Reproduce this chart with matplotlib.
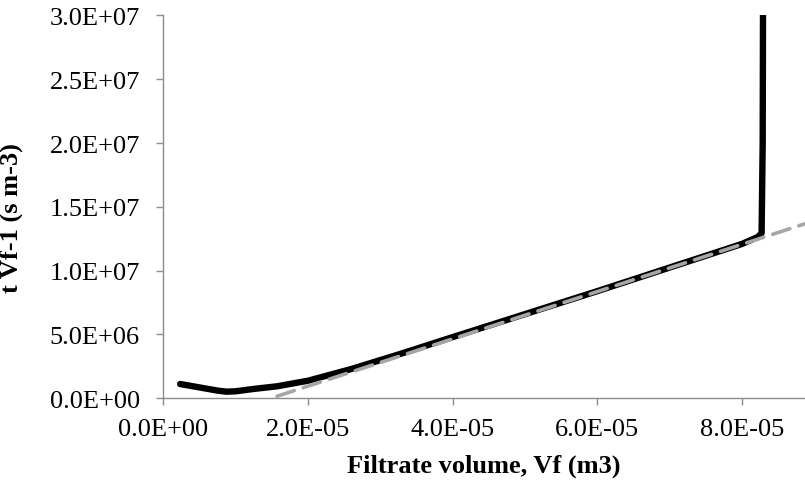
import matplotlib
matplotlib.use('Agg')
import matplotlib.pyplot as plt

plt.rcParams['font.family'] = ['Liberation Serif', 'DejaVu Serif']

# measured curve t/Vf vs Vf
vf = [2.3e-6, 4.0e-6, 6.0e-6, 7.5e-6, 8.7e-6, 1.0e-5, 1.24e-5, 1.57e-5, 2.0e-5,
      2.6e-5, 3.27e-5, 4.0e-5, 5.0e-5, 6.0e-5, 7.0e-5, 8.0e-5, 8.22e-5, 8.27e-5,
      8.285e-5, 8.29e-5]
t_over_vf = [1.12e6, 0.95e6, 0.75e6, 0.6e6, 0.52e6, 0.55e6, 0.73e6, 0.94e6, 1.38e6,
             2.3e6, 3.47e6, 4.8e6, 6.6e6, 8.4e6, 10.25e6, 12.1e6, 12.65e6, 12.95e6,
             20.0e6, 3.2e7]

# linear fit line
fit_vf = [1.57e-5, 9.0e-5]
fit_y = [0.16e6, 13.92e6]

xticks = [0, 2e-5, 4e-5, 6e-5, 8e-5]
xticklabels = ['0.0E+00', '2.0E-05', '4.0E-05', '6.0E-05', '8.0E-05']
yticks = [0, 5e6, 1e7, 1.5e7, 2e7, 2.5e7, 3e7]
yticklabels = ['0.0E+00', '5.0E+06', '1.0E+07', '1.5E+07', '2.0E+07', '2.5E+07', '3.0E+07']

fig = plt.figure(figsize=(8.05, 4.85), dpi=100)
ax = fig.add_axes([0.2031, 0.1767, 0.7969, 0.7893])

ax.plot(vf, t_over_vf, color='black', linewidth=4.6, solid_joinstyle='round',
        solid_capstyle='round', zorder=2)
ax.plot(fit_vf, fit_y, color='#a6a6a6', linewidth=2.6, dashes=(5, 2.6),
        dash_capstyle='round', zorder=3)

ax.set_xlim(0, 8.87e-5)
ax.set_ylim(0, 3e7)
ax.set_xticks(xticks)
ax.set_xticklabels(xticklabels, fontsize=19)
ax.set_yticks(yticks)
ax.set_yticklabels(yticklabels, fontsize=19)

for s in ['top', 'right']:
    ax.spines[s].set_visible(False)
for s in ['left', 'bottom']:
    ax.spines[s].set_color('#8c8c8c')
    ax.spines[s].set_linewidth(1.0)
ax.tick_params(direction='out', length=5, color='#8c8c8c', width=1.0)
ax.tick_params(axis='y', pad=12)
ax.tick_params(axis='x', pad=9)

ax.set_xlabel('Filtrate volume, Vf (m3)', fontsize=19, fontweight='bold')
ax.set_ylabel('t Vf-1 (s m-3)', fontsize=19, fontweight='bold')
ax.xaxis.set_label_coords(0.5, -0.145)
ax.yaxis.set_label_coords(-0.219, 0.474)

fig.savefig('out.png', dpi=100, facecolor='white')
plt.close()
